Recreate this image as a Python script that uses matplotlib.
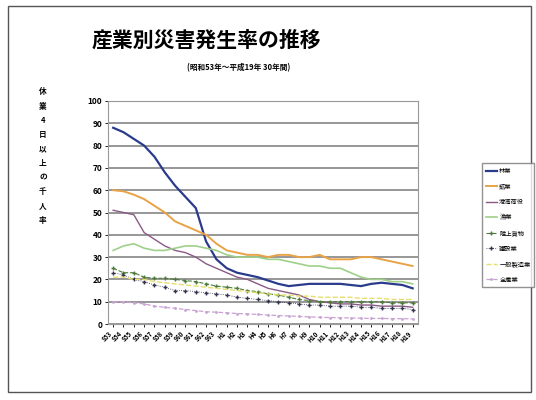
import matplotlib
matplotlib.use('Agg')
import matplotlib.pyplot as plt
import matplotlib.patches as mpatches
import numpy as np

plt.rcParams['font.family'] = ['Noto Sans CJK JP', 'DejaVu Sans']

# 昭和53年～平成19年
years = ['S%d' % y for y in range(53, 64)] + ['H%d' % y for y in range(1, 20)]

ringyo = [88, 86, 83, 80, 75, 68, 62, 57, 52, 37, 29, 25, 23, 22, 21,
          19.5, 18, 17, 17.5, 18, 18, 18, 18, 17.5, 17, 18, 18.5, 18, 17.5, 16]
kogyo = [60, 59.5, 58, 56, 53, 50, 46, 44, 42, 40, 36, 33, 32, 31, 31,
         30, 31, 31, 30, 30, 31, 29, 29, 29, 30, 30, 29, 28, 27, 26]
kowan = [51, 50, 49, 41, 38, 35, 33, 32, 30, 27, 25, 23, 21, 20, 18,
         16, 15, 14, 13, 11, 10, 9.5, 9, 9, 8.5, 8.5, 8, 8, 8, 7.5]
gyogyo = [33, 35, 36, 34, 33, 33, 34, 35, 35, 34, 33, 31, 30, 30, 30,
          29, 29, 28, 27, 26, 26, 25, 25, 23, 21, 20, 20, 19, 19, 18]
rikujo = [25, 23, 23, 21, 20.5, 20.5, 20, 19.5, 19, 18, 17, 16.5, 16, 15, 14.5,
          13.5, 13, 12, 11, 10.5, 10, 10, 10, 10, 10, 10, 10, 9.5, 9.5, 9.5]
kensetsu = [23, 22, 20, 19, 17.5, 16.5, 15, 15, 14.5, 14, 13.5, 13, 12, 11.5, 11,
            10.5, 10, 9.5, 9, 8.5, 8.5, 8, 8, 8, 7.5, 7.5, 7, 7, 7, 6.5]
seizo = [21, 21, 20, 20, 19, 18.5, 18, 17.5, 17, 16.5, 16, 15.5, 15, 14.5, 14,
         13.5, 13, 13, 12.5, 12.5, 12, 12, 12, 12, 11.5, 11.5, 11.5, 11, 11, 11]
zensangyo = [10, 10, 9.5, 9, 8, 7.5, 7, 6.5, 6, 5.5, 5.3, 5, 4.7, 4.5, 4.3,
             4, 3.8, 3.6, 3.4, 3.2, 3, 2.9, 2.8, 2.7, 2.6, 2.5, 2.5, 2.4, 2.4, 2.3]

series = [
    ('林業', ringyo, dict(color='#2b3b8c', lw=1.6)),
    ('鉱業', kogyo, dict(color='#e8a347', lw=1.4)),
    ('港湾荷役', kowan, dict(color='#8a5a86', lw=1.0)),
    ('漁業', gyogyo, dict(color='#9fd08a', lw=1.2)),
    ('陸上貨物', rikujo, dict(color='#4f7a3c', lw=0.8, ls='--', marker='+', ms=3)),
    ('建設業', kensetsu, dict(color='#33334f', lw=0.6, ls=':', marker='+', ms=3)),
    ('一般製造業', seizo, dict(color='#e6df6a', lw=1.0, ls='--')),
    ('全産業', zensangyo, dict(color='#c9a3d3', lw=0.9, ls='--', marker='.', ms=2)),
]

fig = plt.figure(figsize=(5.36, 4.0), dpi=100)
fig.patches.append(mpatches.Rectangle((0.015, 0.02), 0.975, 0.965, transform=fig.transFigure,
                                      fill=False, edgecolor='#555555', lw=1.0))

ax = fig.add_axes([0.2015, 0.19, 0.578, 0.5575])
x = np.arange(len(years))
for name, vals, st in series:
    ax.plot(x, vals, label=name, **st)

ax.set_xlim(-0.5, len(years) - 0.5)
ax.set_ylim(0, 100)
ax.set_yticks(range(0, 101, 10))
ax.set_yticklabels([str(v) for v in range(0, 101, 10)], fontsize=6, fontweight='bold')
ax.set_xticks(x)
ax.set_xticklabels(years, rotation=45, ha='right', fontsize=4.5, fontweight='bold')
ax.tick_params(axis='both', length=2, width=0.6, pad=2)
ax.yaxis.grid(True, color='#7a7a7a', lw=1.1)
ax.set_axisbelow(True)
for s in ax.spines.values():
    s.set_color('#999999')
    s.set_linewidth(0.8)

fig.text(0.385, 0.9, '産業別災害発生率の推移', ha='center', va='center',
         fontsize=15, fontweight='bold')
fig.text(0.445, 0.83, '(昭和53年～平成19年 30年間)', ha='center', va='center',
         fontsize=5.5, fontweight='bold')
fig.text(0.08, 0.61, '\n'.join('休業4日以上の千人率'), ha='center', va='center',
         fontsize=5.5, fontweight='bold', linespacing=1.75)

fig.legend(loc='upper left', bbox_to_anchor=(0.893, 0.6), fontsize=4.5,
           frameon=True, fancybox=False, edgecolor='#777777', handlelength=1.8,
           labelspacing=1.2, borderpad=0.6, handletextpad=0.4)

fig.savefig('out.png', dpi=100)
